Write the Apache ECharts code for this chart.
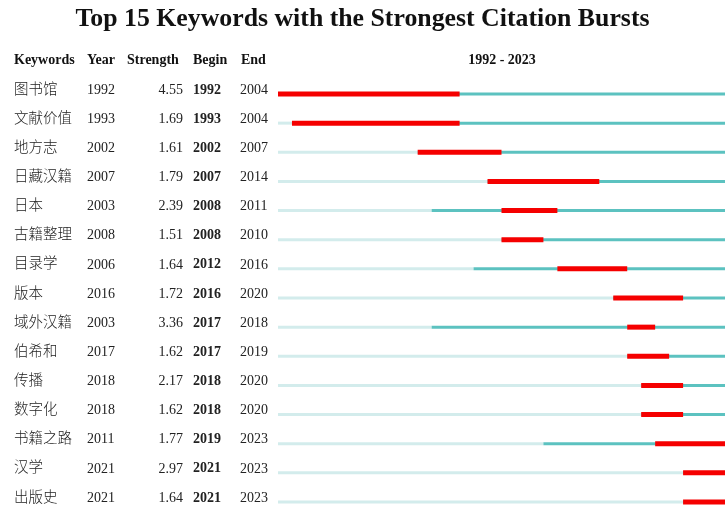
<!DOCTYPE html>
<html>
<head>
<meta charset="utf-8">
<script src="https://cdn.jsdelivr.net/npm/echarts@6/dist/echarts.min.js"></script>
<style>
  html, body { margin: 0; padding: 0; background: #fff; }
  #chart { width: 725px; height: 506px; }
</style>
</head>
<body>
<div id="chart"></div>
<script>
// 关键词突现数据
var keywords = ['图书馆', '文献价值', '地方志', '日藏汉籍', '日本', '古籍整理', '目录学', '版本',
  '域外汉籍', '伯希和', '传播', '数字化', '书籍之路', '汉学', '出版史'];
var years = [1992, 1993, 2002, 2007, 2003, 2008, 2006, 2016, 2003, 2017, 2018, 2018, 2011, 2021, 2021];
var strengths = ['4.55', '1.69', '1.61', '1.79', '2.39', '1.51', '1.64', '1.72', '3.36', '1.62', '2.17', '1.62', '1.77', '2.97', '1.64'];
var begins = [1992, 1993, 2002, 2007, 2008, 2008, 2012, 2016, 2017, 2017, 2018, 2018, 2019, 2021, 2021];
var ends = [2004, 2004, 2007, 2014, 2011, 2010, 2016, 2020, 2018, 2019, 2020, 2020, 2023, 2023, 2023];
var startYear = 1992;
var endYear = 2023;

var serif = '"Liberation Serif", "Times New Roman", serif';
var cjk = '"Noto Sans CJK SC", sans-serif';

var rows = keywords.map(function (k, i) {
  return [i, years[i], begins[i], ends[i]];
});

var chart = echarts.init(document.getElementById('chart'));

function barItem(params, api) {
  var idx = api.value(0);
  var y = api.coord([startYear, idx])[1];
  var x0 = api.coord([startYear, idx])[0];
  var xYear = api.coord([api.value(1), idx])[0];
  var xEnd = api.coord([endYear + 1, idx])[0];
  var xB = api.coord([api.value(2), idx])[0];
  var xE = api.coord([api.value(3) + 1, idx])[0];
  return {
    type: 'group',
    children: [
      { type: 'rect', shape: { x: x0, y: y - 1.5, width: xYear - x0, height: 3 }, style: { fill: '#d3ecec' } },
      { type: 'rect', shape: { x: xYear, y: y - 1.5, width: xEnd - xYear, height: 3 }, style: { fill: '#5cc2c0' } },
      { type: 'rect', shape: { x: xB, y: y - 2.5, width: xE - xB, height: 5 }, style: { fill: '#f50000' } }
    ]
  };
}

function textItem(params, api) {
  var idx = api.value(0);
  var y = api.coord([startYear, idx])[1] - 5;
  var base = { fontFamily: serif, fontSize: 14, fill: '#222', verticalAlign: 'middle' };
  return {
    type: 'group',
    children: [
      { type: 'text', style: Object.assign({}, base, { x: 14, y: y - 1, text: keywords[idx], fontFamily: cjk, fontSize: 14.5, fontWeight: 300 }) },
      { type: 'text', style: Object.assign({}, base, { x: 87, y: y + 1, text: String(years[idx]) }) },
      { type: 'text', style: Object.assign({}, base, { x: 183, y: y + 1, text: strengths[idx], align: 'right' }) },
      { type: 'text', style: Object.assign({}, base, { x: 193, y: y + 1, text: String(begins[idx]), fontWeight: 'bold' }) },
      { type: 'text', style: Object.assign({}, base, { x: 240, y: y + 1, text: String(ends[idx]) }) }
    ]
  };
}

var headBase = { fontFamily: serif, fontSize: 14, fontWeight: 'bold', fill: '#111', verticalAlign: 'middle' };

chart.setOption({
  animation: false,
  title: {
    text: 'Top 15 Keywords with the Strongest Citation Bursts',
    left: 'center',
    top: 1,
    textStyle: { fontFamily: serif, fontSize: 25.8, fontWeight: 'bold', color: '#111' }
  },
  graphic: [
    { type: 'text', style: Object.assign({}, headBase, { x: 14, y: 60, text: 'Keywords' }) },
    { type: 'text', style: Object.assign({}, headBase, { x: 87, y: 60, text: 'Year' }) },
    { type: 'text', style: Object.assign({}, headBase, { x: 127, y: 60, text: 'Strength' }) },
    { type: 'text', style: Object.assign({}, headBase, { x: 193, y: 60, text: 'Begin' }) },
    { type: 'text', style: Object.assign({}, headBase, { x: 241, y: 60, text: 'End' }) },
    { type: 'text', style: Object.assign({}, headBase, { x: 502, y: 60, text: startYear + ' - ' + endYear, align: 'center' }) }
  ],
  grid: { left: 278, right: -1, top: 94, bottom: 4 },
  xAxis: { type: 'value', min: startYear, max: endYear + 1, show: false },
  yAxis: { type: 'value', min: 0, max: keywords.length - 1, inverse: true, show: false },
  series: [
    { type: 'custom', renderItem: barItem, data: rows, clip: false },
    { type: 'custom', renderItem: textItem, data: rows, clip: false }
  ]
});
</script>
</body>
</html>
